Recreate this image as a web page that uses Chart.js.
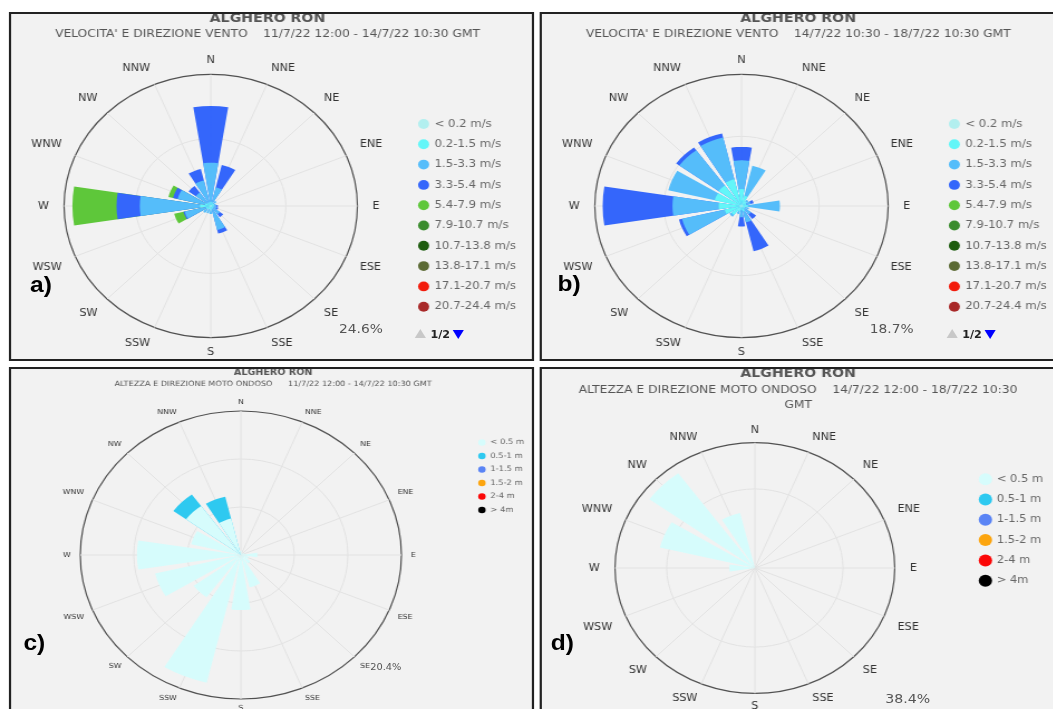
<!DOCTYPE html>
<html>
<head>
<meta charset="utf-8">
<script src="https://cdn.jsdelivr.net/npm/chart.js@4.4.1/dist/chart.umd.min.js"></script>
<style>
  body { margin: 0; background: #fff; overflow: hidden; }
  /* the reference screenshot is stretched horizontally, so the whole sheet is too */
  #page { position: relative; width: 944px; height: 709px; transform: scaleX(1.115); transform-origin: 0 0;
          font-family: 'DejaVu Sans', Verdana, sans-serif; }
  .panel { position: absolute; width: 467px; height: 345px; border: 2px solid #222; background: #f2f2f2; overflow: hidden; }
  .panel canvas { position: absolute; left: 0; top: 0; }
  .tag { position: absolute; font: bold 22px 'Liberation Sans', Arial, sans-serif; color: #000; transform: translateY(-50%); }
  .pct { position: absolute; color: #555; transform: translateY(-50%); white-space: nowrap; }
  .up { position: absolute; width: 0; height: 0; border-left: 5px solid transparent; border-right: 5px solid transparent; border-bottom: 9px solid #c8c8c8; }
  .down { position: absolute; width: 0; height: 0; border-left: 5px solid transparent; border-right: 5px solid transparent; border-top: 9px solid #0000ff; }
  .pg { position: absolute; font: bold 10px 'DejaVu Sans', sans-serif; color: #222; transform: translateY(-50%); }
</style>
</head>
<body>
<div id="page">
  <div class="panel" style="left:8px; top:12px;"><canvas id="roseA" width="467" height="346"></canvas></div>
  <div class="panel" style="left:484px; top:12px;"><canvas id="roseB" width="467" height="346"></canvas></div>
  <div class="panel" style="left:8px; top:367px;"><canvas id="roseC" width="467" height="344"></canvas></div>
  <div class="panel" style="left:484px; top:367px;"><canvas id="roseD" width="467" height="344"></canvas></div>

  <div class="tag" style="left:27px; top:285px;">a)</div>
  <div class="tag" style="left:500px; top:284px;">b)</div>
  <div class="tag" style="left:21px; top:643px;">c)</div>
  <div class="tag" style="left:494px; top:643px;">d)</div>

  <div class="pct" id="pctA" style="left:304px; top:328px; font-size:12.4px;"></div>
  <div class="pct" id="pctB" style="left:780px; top:328px; font-size:12.4px;"></div>
  <div class="pct" id="pctC" style="left:332px; top:667px; font-size:8.8px;"></div>
  <div class="pct" id="pctD" style="left:794px; top:698px; font-size:12.7px;"></div>

  <div class="up" style="left:372px; top:329px;"></div>
  <div class="pg" style="left:386px; top:334px;">1/2</div>
  <div class="down" style="left:406px; top:330px;"></div>
  <div class="up" style="left:849px; top:329px;"></div>
  <div class="pg" style="left:863px; top:334px;">1/2</div>
  <div class="down" style="left:883px; top:330px;"></div>
</div>

<script>
const directions = ['N', 'NNE', 'NE', 'ENE', 'E', 'ESE', 'SE', 'SSE', 'S', 'SSW', 'SW', 'WSW', 'W', 'WNW', 'NW', 'NNW'];

const windBins = ['< 0.2 m/s', '0.2-1.5 m/s', '1.5-3.3 m/s', '3.3-5.4 m/s', '5.4-7.9 m/s', '7.9-10.7 m/s',
                  '10.7-13.8 m/s', '13.8-17.1 m/s', '17.1-20.7 m/s', '20.7-24.4 m/s'];
const windColors = ['#b2efef', '#63f6f8', '#55bdfa', '#3466fb', '#5ec73a', '#3a8c2d', '#1d5c0e', '#5b6a34', '#f21c0c', '#a82828'];

const waveBins = ['< 0.5 m', '0.5-1 m', '1-1.5 m', '1.5-2 m', '2-4 m', '> 4m'];
const waveColors = ['#d6fcfc', '#2ec9f0', '#5a84f5', '#fca50f', '#fb0707', '#000000'];

// a) wind 11/7/22 12:00 - 14/7/22 10:30, % of records per direction (N .. NNW)
const windA_lt02  = [0.2, 0.2, 0.2, 0.2, 0.2, 0.2, 0.2, 0.2, 0.2, 0.2, 0.2, 0.2, 0.3, 0.2, 0.2, 0.2];
const windA_02_15 = [0.6, 0.5, 0.4, 0.4, 0.4, 0.3, 0.3, 0.4, 0.5, 0.4, 0.5, 0.6, 1.5, 0.8, 0.5, 0.5];
const windA_15_33 = [7.3, 2.9, 0.6, 0.3, 0.3, 0.5, 1.4, 4.0, 0.8, 0.8, 0.9, 3.7, 10.1, 4.7, 2.4, 4.2];
const windA_33_54 = [10.6, 4.3, 0, 0, 0.3, 0.3, 0.7, 0.7, 0, 0, 0, 0.2, 3.9, 0.8, 1.5, 2.2];
const windA_54_79 = [0, 0, 0, 0, 0, 0, 0, 0, 0, 0, 0, 1.6, 7.4, 0.8, 0, 0];
const ringsA = [0, 12.6, 24.6];

// b) wind 14/7/22 10:30 - 18/7/22 10:30
const windB_lt02  = [0.2, 0.2, 0.2, 0.2, 0.2, 0.2, 0.2, 0.2, 0.2, 0.2, 0.2, 0.2, 0.3, 0.2, 0.2, 0.2];
const windB_02_15 = [2.2, 1.3, 0.6, 0.4, 0.6, 0.3, 0.3, 0.6, 0.4, 0.6, 1.4, 2.0, 2.6, 3.3, 3.4, 3.7];
const windB_15_33 = [4.1, 4.4, 0.3, 0.6, 4.1, 0.5, 1.0, 1.6, 1.0, 0.4, 0.3, 5.6, 5.9, 6.1, 6.2, 6.1];
const windB_33_54 = [1.9, 0, 0, 0.4, 0, 0, 0.8, 4.2, 1.3, 0, 0, 0.4, 8.9, 0, 0.5, 0.6];
const ringsB = [0, 9.9, 18.7];

// c) waves 11/7/22 12:00 - 14/7/22 10:30
const waveC_lt05 = [0.6, 0.3, 0.3, 0.5, 2.1, 1.0, 1.5, 4.7, 7.8, 18.6, 7.4, 11.2, 13.2, 6.5, 8.6, 5.3];
const waveC_05_1 = [0, 0, 0, 0, 0, 0, 0, 0, 0, 0, 0, 0, 0, 0, 2.0, 3.2];
const ringsC = [0, 6.8, 13.6, 20.4];

// d) waves 14/7/22 12:00 - 18/7/22 10:30
const waveD_lt05 = [0, 0, 0, 0, 0, 0, 0, 0, 0, 0, 0, 0, 7.0, 26.8, 35.8, 17.3];
const ringsD = [0, 24.2, 38.4];

const FONT = "'DejaVu Sans', Verdana, sans-serif";
const SECTOR = 18;            // wedge width in degrees
const GAP = 22.5 - SECTOR;

// polarArea slices: half of N, then gap/wedge pairs, then the other half of N
const sliceAngles = [SECTOR / 2];
for (let k = 1; k < directions.length; k++) sliceAngles.push(GAP, SECTOR);
sliceAngles.push(GAP, SECTOR / 2 + 0.5);

function expand(values) {
  const out = [values[0]];
  for (let k = 1; k < values.length; k++) out.push(0, values[k]);
  out.push(0, values[0]);
  return out;
}

function rose(id, o) {
  const datasets = [];
  let running = directions.map(() => 0);
  o.series.forEach((vals, j) => {
    running = running.map((r, k) => r + vals[k]);
    const own = expand(vals);
    datasets.push({
      label: o.bins[j],
      data: expand(running),
      backgroundColor: c => (c.dataIndex % 2 === 1 || own[c.dataIndex] <= 0) ? 'rgba(0,0,0,0)' : o.colors[j],
      borderWidth: 0,
      angle: c => sliceAngles[c.dataIndex]
    });
  });
  const last = o.rings.length - 1;

  new Chart(document.getElementById(id), {
    type: 'polarArea',
    data: { labels: directions, datasets: datasets },
    options: {
      responsive: false,
      animation: false,
      events: [],
      layout: { padding: { left: o.padLeft, top: 0, right: o.padRight, bottom: 0 } },
      scales: {
        r: {
          min: 0,
          max: o.rings[last],
          startAngle: 0,
          afterBuildTicks: s => { s.ticks = o.rings.map(v => ({ value: v })); },
          ticks: { display: false },
          grid: {
            circular: true,
            color: c => c.index === last ? '#505050' : '#e2e2e2',
            lineWidth: c => c.index === last ? 1.2 : 1
          },
          angleLines: { display: true, color: '#e2e2e2', lineWidth: 1 },
          pointLabels: {
            display: true, color: '#333', font: { family: FONT, size: o.labelSize },
            // side labels sit a little further out than top/bottom ones
            padding: c => o.labelPad[0] + (o.labelPad[1] - o.labelPad[0]) * Math.abs(Math.sin(c.index * Math.PI / 8))
          }
        }
      },
      plugins: {
        tooltip: { enabled: false },
        title: {
          display: true, text: 'ALGHERO RON', color: '#555',
          font: { family: FONT, size: o.titleSize, weight: 'bold' },
          padding: { top: o.titlePad, bottom: 0 }
        },
        subtitle: {
          display: true, text: o.subtitle, color: '#555',
          font: { family: FONT, size: o.subSize, lineHeight: o.subLine },
          padding: { top: o.subPad[0], bottom: o.subPad[1] }
        },
        legend: {
          position: 'right',
          align: 'start',
          fullSize: false,
          title: { display: true, text: ' ', font: { size: 10 }, padding: { top: o.legendTop - 12, bottom: 0 } },
          labels: {
            usePointStyle: true,
            boxWidth: o.box[0],
            boxHeight: o.box[1],
            padding: o.legendPad,
            color: '#333',
            font: { family: FONT, size: o.legendSize },
            generateLabels: () => o.bins.map((t, i) => ({
              text: t, fillStyle: o.colors[i], strokeStyle: o.colors[i], lineWidth: 0, pointStyle: 'circle', hidden: false, index: i
            }))
          }
        }
      }
    }
  });
  document.getElementById(o.pct).textContent = o.rings[last] + '%';
}

const windLayout = {
  bins: windBins, colors: windColors, labelSize: 10, labelPad: [8.5, 13.5], titleSize: 12.7, titlePad: -3,
  subSize: 11, subLine: 1.2, subPad: [1, 13.5], legendTop: 55, box: [9, 7], legendPad: 9.8, legendSize: 10.5,
  padLeft: -3, padRight: 4.2
};

rose('roseA', Object.assign({}, windLayout, {
  series: [windA_lt02, windA_02_15, windA_15_33, windA_33_54, windA_54_79], rings: ringsA, pct: 'pctA',
  subtitle: "VELOCITA' E DIREZIONE VENTO    11/7/22 12:00 - 14/7/22 10:30 GMT"
}));

rose('roseB', Object.assign({}, windLayout, {
  series: [windB_lt02, windB_02_15, windB_15_33, windB_33_54], rings: ringsB, pct: 'pctB',
  subtitle: "VELOCITA' E DIREZIONE VENTO    14/7/22 10:30 - 18/7/22 10:30 GMT"
}));

rose('roseC', {
  bins: waveBins, colors: waveColors, series: [waveC_lt05, waveC_05_1], rings: ringsC, pct: 'pctC',
  subtitle: 'ALTEZZA E DIREZIONE MOTO ONDOSO      11/7/22 12:00 - 14/7/22 10:30 GMT',
  labelSize: 7, labelPad: [4.8, 8.5], titleSize: 8.6, titlePad: -1.7, subSize: 7.3, subLine: 1.2, subPad: [2.1, 9.3],
  legendTop: 35, box: [7.5, 4.7], legendPad: 6, legendSize: 7.5, padLeft: 0, padRight: -3
});

rose('roseD', {
  bins: waveBins, colors: waveColors, series: [waveD_lt05], rings: ringsD, pct: 'pctD',
  subtitle: ['ALTEZZA E DIREZIONE MOTO ONDOSO    14/7/22 12:00 - 18/7/22 10:30', 'GMT'],
  labelSize: 10, labelPad: [6.5, 13.6], titleSize: 12.7, titlePad: -3.3, subSize: 11, subLine: 15 / 11, subPad: [1.6, 11.5],
  legendTop: 40, box: [10, 8.5], legendPad: 10, legendSize: 10.3, padLeft: 0, padRight: 7.5
});
</script>
</body>
</html>
